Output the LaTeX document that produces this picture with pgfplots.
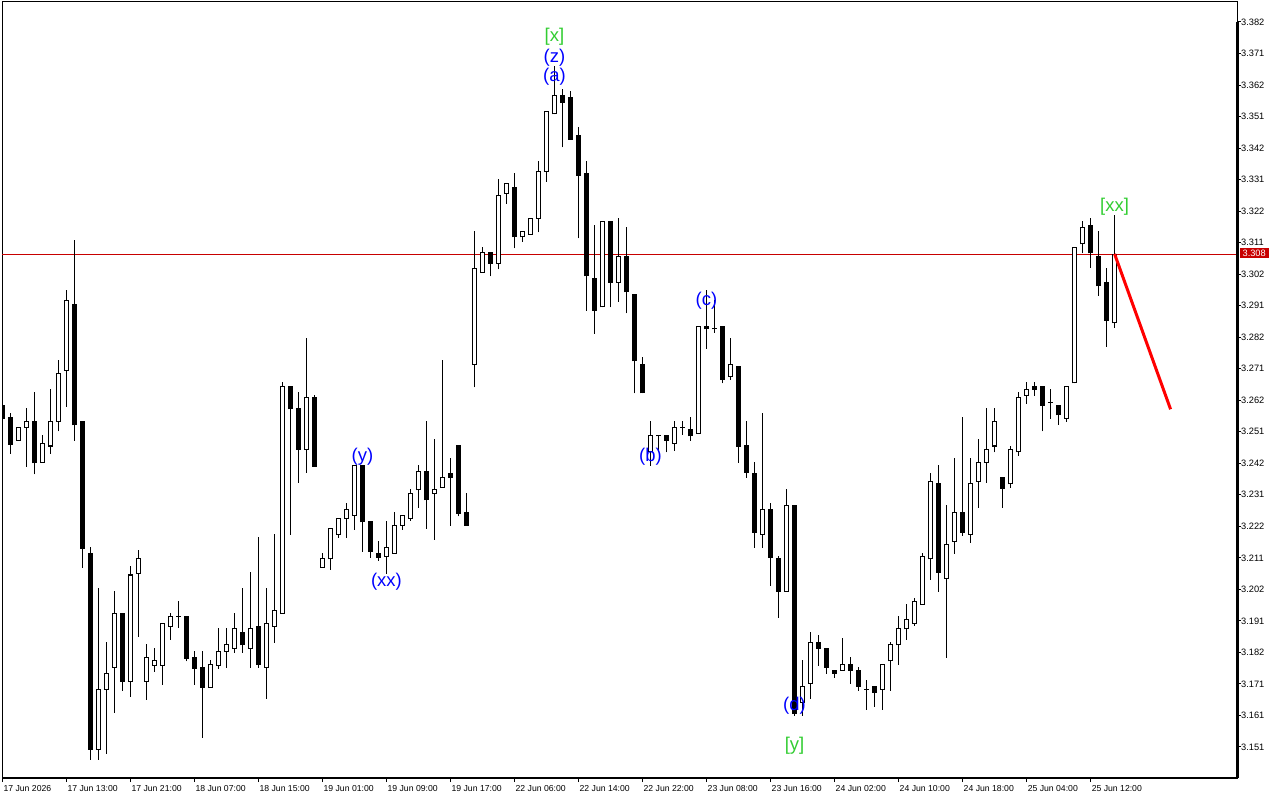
\documentclass[border=0pt]{standalone}
\usepackage{fontspec}
\setmainfont{Liberation Sans}
\usepackage{pgfplots}
\usepackage{pgfplotstable}
\pgfplotsset{compat=1.18}
\definecolor{mtblue}{RGB}{0,0,255}
\definecolor{mtgreen}{RGB}{50,205,50}
\definecolor{bidred}{RGB}{200,0,0}
\definecolor{trendred}{RGB}{255,0,0}
\newcommand{\xfont}{\fontsize{8.7}{10}\selectfont}
\newcommand{\yfont}{\fontsize{9.3}{10}\selectfont}
\newcommand{\annfont}{\fontsize{18.5}{20}\selectfont}

\pgfplotstableread{
i o h l c
0 3.2599 3.2603 3.2558 3.2558
1 3.2561 3.2571 3.2446 3.2475
2 3.2488 3.2529 3.2488 3.2529
3 3.2529 3.2590 3.2405 3.2548
4 3.2548 3.2641 3.2380 3.2415
5 3.2418 3.2501 3.2418 3.2478
6 3.2469 3.2650 3.2446 3.2548
7 3.2548 3.2743 3.2517 3.2701
8 3.2711 3.2963 3.2596 3.2934
9 3.2921 3.3125 3.2488 3.2536
10 3.2548 3.2548 3.2083 3.2144
11 3.2128 3.2147 3.1471 3.1503
12 3.1503 3.2016 3.1471 3.1694
13 3.1694 3.1844 3.1490 3.1745
14 3.1764 3.2007 3.1621 3.1936
15 3.1936 3.1936 3.1691 3.1720
16 3.1720 3.2086 3.1672 3.2058
17 3.2064 3.2137 3.1863 3.2109
18 3.1720 3.1835 3.1662 3.1796
19 3.1771 3.1825 3.1752 3.1784
20 3.1771 3.1905 3.1710 3.1905
21 3.1895 3.1936 3.1854 3.1927
22 3.1927 3.1975 3.1892 3.1927
23 3.1927 3.1927 3.1784 3.1793
24 3.1796 3.1815 3.1710 3.1761
25 3.1764 3.1815 3.1541 3.1701
26 3.1701 3.1784 3.1701 3.1774
27 3.1771 3.1886 3.1761 3.1815
28 3.1815 3.1886 3.1764 3.1835
29 3.1825 3.1936 3.1812 3.1886
30 3.1876 3.2016 3.1812 3.1835
31 3.1825 3.2067 3.1764 3.1886
32 3.1895 3.2179 3.1764 3.1774
33 3.1764 3.2016 3.1666 3.1905
34 3.1895 3.2188 3.1844 3.1946
35 3.1936 3.2670 3.1936 3.2660
36 3.2660 3.2660 3.2188 3.2587
37 3.2590 3.2641 3.2354 3.2459
38 3.2459 3.2813 3.2386 3.2622
39 3.2622 3.2631 3.2405 3.2405
40 3.2083 3.2128 3.2083 3.2109
41 3.2109 3.2207 3.2077 3.2207
42 3.2188 3.2239 3.2179 3.2239
43 3.2239 3.2287 3.2179 3.2268
44 3.2249 3.2408 3.2204 3.2408
45 3.2408 3.2408 3.2134 3.2227
46 3.2227 3.2227 3.2115 3.2134
47 3.2128 3.2166 3.2105 3.2115
48 3.2118 3.2227 3.2064 3.2147
49 3.2128 3.2258 3.2128 3.2217
50 3.2217 3.2249 3.2204 3.2249
51 3.2239 3.2329 3.2233 3.2319
52 3.2329 3.2408 3.2274 3.2389
53 3.2389 3.2548 3.2207 3.2297
54 3.2319 3.2491 3.2172 3.2329
55 3.2338 3.2743 3.2338 3.2370
56 3.2380 3.2430 3.2217 3.2370
57 3.2469 3.2469 3.2246 3.2255
58 3.2258 3.2319 3.2217 3.2217
59 3.2730 3.3154 3.2657 3.3033
60 3.3023 3.3103 3.3023 3.3084
61 3.3084 3.3084 3.3011 3.3052
62 3.3052 3.3317 3.3033 3.3266
63 3.3275 3.3304 3.3243 3.3304
64 3.3294 3.3336 3.3100 3.3135
65 3.3135 3.3154 3.3122 3.3154
66 3.3144 3.3195 3.3144 3.3195
67 3.3195 3.3374 3.3151 3.3345
68 3.3345 3.3536 3.3313 3.3536
69 3.3527 3.3677 3.3527 3.3587
70 3.3587 3.3606 3.3422 3.3565
71 3.3578 3.3597 3.3447 3.3447
72 3.3457 3.3485 3.3132 3.3332
73 3.3336 3.3374 3.2902 3.3011
74 3.3004 3.3173 3.2829 3.2902
75 3.2912 3.3183 3.2912 3.3183
76 3.3183 3.3183 3.2912 3.2991
77 3.2991 3.3195 3.2931 3.3074
78 3.3074 3.3164 3.2893 3.2960
79 3.2953 3.2953 3.2638 3.2740
80 3.2730 3.2752 3.2638 3.2638
81 3.2450 3.2548 3.2408 3.2501
82 3.2501 3.2501 3.2450 3.2501
83 3.2501 3.2501 3.2450 3.2488
84 3.2478 3.2548 3.2456 3.2529
85 3.2529 3.2548 3.2507 3.2529
86 3.2520 3.2561 3.2488 3.2501
87 3.2510 3.2851 3.2510 3.2851
88 3.2851 3.2963 3.2781 3.2842
89 3.2842 3.2931 3.2832 3.2842
90 3.2851 3.2851 3.2670 3.2682
91 3.2692 3.2813 3.2682 3.2730
92 3.2721 3.2721 3.2418 3.2469
93 3.2469 3.2548 3.2370 3.2386
94 3.2380 3.2418 3.2147 3.2195
95 3.2188 3.2571 3.2147 3.2268
96 3.2268 3.2287 3.2026 3.2115
97 3.2109 3.2118 3.1924 3.2007
98 3.2007 3.2329 3.2007 3.2278
99 3.2278 3.2278 3.1611 3.1618
100 3.1653 3.1784 3.1611 3.1704
101 3.1713 3.1876 3.1666 3.1844
102 3.1844 3.1866 3.1771 3.1825
103 3.1825 3.1825 3.1745 3.1764
104 3.1755 3.1755 3.1733 3.1745
105 3.1755 3.1857 3.1755 3.1774
106 3.1774 3.1796 3.1713 3.1755
107 3.1755 3.1764 3.1691 3.1704
108 3.1694 3.1723 3.1631 3.1694
109 3.1704 3.1704 3.1640 3.1685
110 3.1694 3.1774 3.1631 3.1774
111 3.1784 3.1844 3.1691 3.1835
112 3.1835 3.1927 3.1774 3.1886
113 3.1886 3.1965 3.1854 3.1917
114 3.1905 3.1984 3.1898 3.1975
115 3.1965 3.2128 3.1965 3.2118
116 3.2109 3.2380 3.2045 3.2357
117 3.2348 3.2408 3.2007 3.2067
118 3.2048 3.2278 3.1796 3.2156
119 3.2166 3.2430 3.2128 3.2258
120 3.2258 3.2561 3.2185 3.2195
121 3.2188 3.2430 3.2163 3.2348
122 3.2357 3.2491 3.2274 3.2418
123 3.2418 3.2590 3.2354 3.2459
124 3.2469 3.2590 3.2450 3.2548
125 3.2370 3.2370 3.2274 3.2335
126 3.2348 3.2466 3.2338 3.2459
127 3.2450 3.2641 3.2440 3.2622
128 3.2631 3.2670 3.2606 3.2650
129 3.2660 3.2670 3.2631 3.2650
130 3.2660 3.2660 3.2517 3.2599
131 3.2609 3.2650 3.2558 3.2609
132 3.2599 3.2599 3.2539 3.2568
133 3.2558 3.2660 3.2548 3.2660
134 3.2670 3.3103 3.2670 3.3103
135 3.3113 3.3183 3.3084 3.3164
136 3.3173 3.3195 3.3039 3.3084
137 3.3074 3.3154 3.2950 3.2979
138 3.2991 3.3033 3.2787 3.2870
139 3.2861 3.3205 3.2848 3.3080
}\candles

\begin{document}
\begin{tikzpicture}
\useasboundingbox[fill=white] (0,0) rectangle (1280bp,800bp);
\begin{axis}[
  at={(2bp,22bp)}, anchor=south west,
  width=1235bp, height=776bp, scale only axis,
  xmin=-0.04, xmax=154.3, ymin=3.14112, ymax=3.38837,
  clip mode=individual,
  axis line style={line width=1bp, black},
  tick align=outside,
  major tick length=4bp,
  tick style={black, line width=1bp},
  xtick pos=lower, ytick pos=upper,
  xticklabel pos=lower, yticklabel pos=upper,
  xtick={0,8,...,136},
  xticklabels={17 Jun 2026,17 Jun 13:00,17 Jun 21:00,18 Jun 07:00,18 Jun 15:00,19 Jun 01:00,19 Jun 09:00,19 Jun 17:00,22 Jun 06:00,22 Jun 14:00,22 Jun 22:00,23 Jun 08:00,23 Jun 16:00,24 Jun 02:00,24 Jun 10:00,24 Jun 18:00,25 Jun 04:00,25 Jun 12:00},
  ytick={3.38200,3.37196,3.36191,3.35187,3.34183,3.33178,3.32174,3.31170,3.30165,3.29161,3.28157,3.27152,3.26148,3.25143,3.24139,3.23135,3.22130,3.21126,3.20122,3.19117,3.18113,3.17109,3.16104,3.15100},
  yticklabels={3.382,3.371,3.362,3.351,3.342,3.331,3.322,3.311,3.302,3.291,3.282,3.271,3.262,3.251,3.242,3.231,3.222,3.211,3.202,3.191,3.182,3.171,3.161,3.151},
  xticklabel style={anchor=north west, inner sep=0pt, font=\xfont, xshift=1bp, yshift=-3bp},
  yticklabel style={anchor=west, inner sep=0pt, font=\yfont},
  /pgf/number format/assume math mode=true,
  every axis plot/.append style={mark=none},
]
% bid line
\addplot[bidred, line width=1bp, forget plot] coordinates {(-0.04,3.308) (154.3,3.308)};
% wicks
\addplot[draw=none, mark=none, forget plot,
  error bars/.cd, y dir=plus, y explicit, error mark=none,
  error bar style={line width=1bp, draw=black}]
  table[x=i, y expr=\thisrow{l}-0.00016, y error expr=\thisrow{h}-\thisrow{l}+0.00032] {\candles};
% bull bodies (outline)
\addplot[draw=none, mark=none, forget plot,
  restrict expr to domain={\thisrow{c}-\thisrow{o}}{-0.00001:1},
  error bars/.cd, y dir=plus, y explicit, error mark=none,
  error bar style={line width=5bp, draw=black}]
  table[x=i, y expr=\thisrow{o}-0.00016, y error expr=\thisrow{c}-\thisrow{o}+0.00032] {\candles};
% bull bodies (white inside)
\addplot[draw=none, mark=none, forget plot,
  restrict expr to domain={\thisrow{c}-\thisrow{o}}{0.0005:1},
  error bars/.cd, y dir=plus, y explicit, error mark=none,
  error bar style={line width=3bp, draw=white}]
  table[x=i, y expr=\thisrow{o}+0.00016, y error expr=\thisrow{c}-\thisrow{o}-0.00032] {\candles};
% bear bodies
\addplot[draw=none, mark=none, forget plot,
  restrict expr to domain={\thisrow{o}-\thisrow{c}}{0.00001:1},
  error bars/.cd, y dir=plus, y explicit, error mark=none,
  error bar style={line width=5bp, draw=black}]
  table[x=i, y expr=\thisrow{c}-0.00016, y error expr=\thisrow{o}-\thisrow{c}+0.00032] {\candles};
% trend line
\addplot[trendred, line width=3bp, forget plot] coordinates {(139,3.3081) (146,3.2586)};

\draw[line width=3bp] (rel axis cs:1,0) -- (rel axis cs:1,0.974);
\draw[line width=2bp] (rel axis cs:0,0) -- (rel axis cs:1,0);

\node[fill=bidred, text=white, font=\yfont, inner sep=0pt, minimum width=29bp, minimum height=10bp, anchor=west, xshift=2.5bp, yshift=1bp] at (axis cs:154.3,3.308) {3.308};

\node[font=\annfont, text=mtgreen] at (axis cs:69,3.3772) {[x]};
\node[font=\annfont, text=mtblue] at (axis cs:69,3.3705) {(z)};
\node[font=\annfont, text=mtblue] at (axis cs:69,3.3645) {(a)};
\node[font=\annfont, text=mtblue] at (axis cs:45,3.2435) {(y)};
\node[font=\annfont, text=mtblue] at (axis cs:48,3.2036) {(xx)};
\node[font=\annfont, text=mtblue] at (axis cs:81,3.2435) {(b)};
\node[font=\annfont, text=mtblue] at (axis cs:88,3.2932) {(c)};
\node[font=\annfont, text=mtblue] at (axis cs:99,3.1640) {(d)};
\node[font=\annfont, text=mtgreen] at (axis cs:99,3.1513) {[y]};
\node[font=\annfont, text=mtgreen] at (axis cs:139,3.3231) {[xx]};
\end{axis}
\end{tikzpicture}
\end{document}
